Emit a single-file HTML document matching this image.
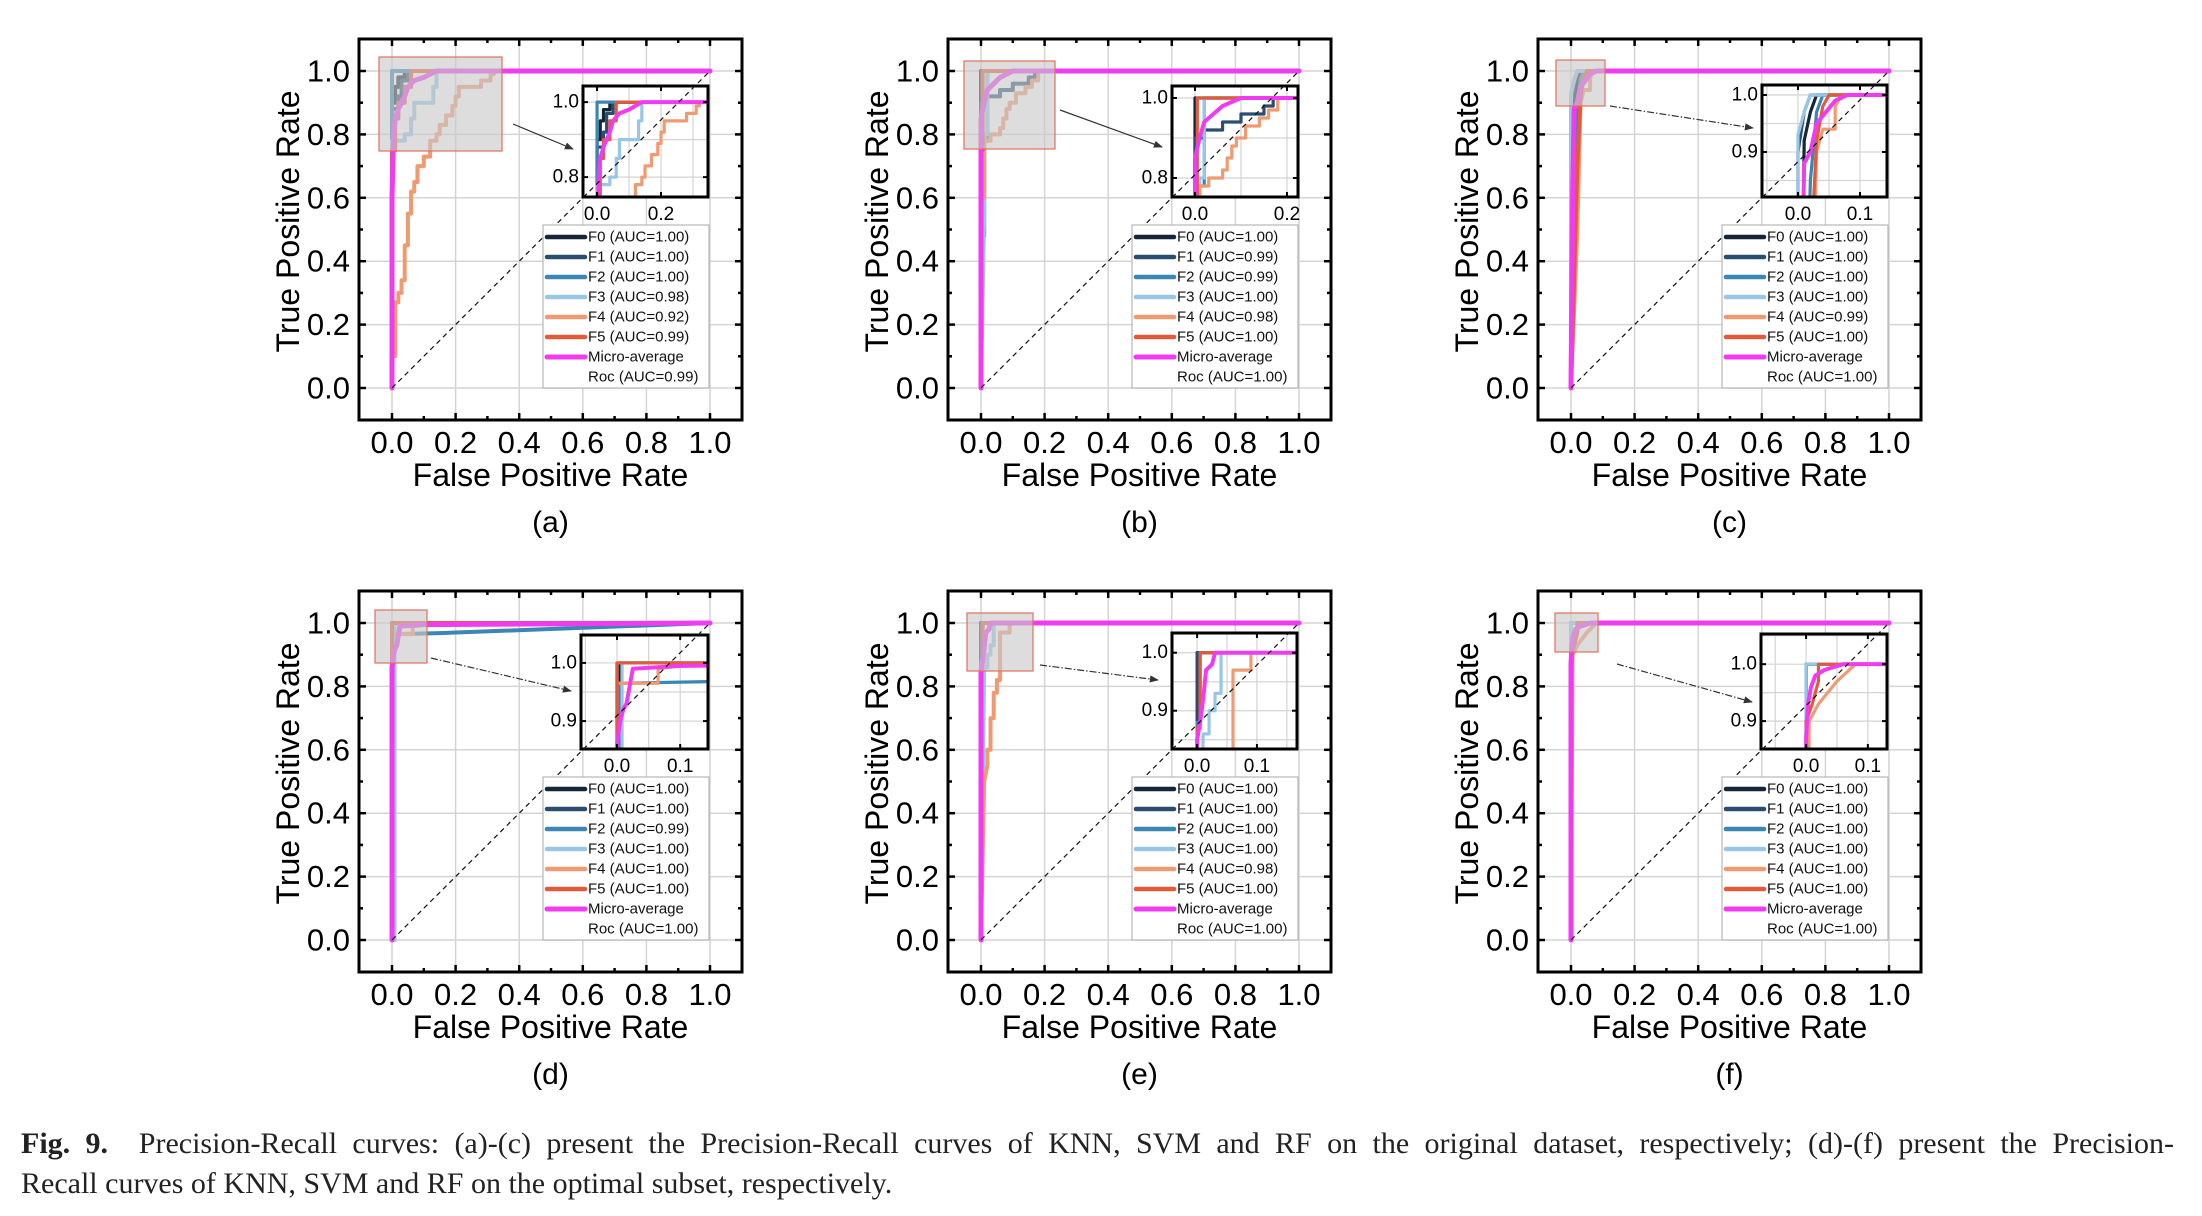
<!DOCTYPE html>
<html><head><meta charset="utf-8">
<style>
html,body{margin:0;padding:0;background:#fff;width:2202px;height:1216px;overflow:hidden}
svg{position:absolute;left:0;top:0}
.cap{position:absolute;left:21px;width:2153px;font-family:"Liberation Serif",serif;font-size:30px;color:#222;line-height:40px}
</style></head>
<body>
<svg id="fig" width="2202" height="1216" viewBox="0 0 2202 1216" xmlns="http://www.w3.org/2000/svg"></svg>
<div class="cap" style="top:1124px;text-align:justify;text-align-last:justify"><b>Fig. 9.</b>&nbsp; Precision-Recall curves: (a)-(c) present the Precision-Recall curves of KNN, SVM and RF on the original dataset, respectively; (d)-(f) present the Precision-</div>
<div class="cap" style="top:1164px">Recall curves of KNN, SVM and RF on the optimal subset, respectively.</div>
<script>
// ---- data ----
const seriesNames = ["F0","F1","F2","F3","F4","F5","Micro-average"];
const xTickValues = [0,0.2,0.4,0.6,0.8,1.0];
const xTickLabels = ["0.0","0.2","0.4","0.6","0.8","1.0"];
const yTickValues = [0,0.2,0.4,0.6,0.8,1.0];
const yTickLabels = ["0.0","0.2","0.4","0.6","0.8","1.0"];
const panelLabels = ["(a)","(b)","(c)","(d)","(e)","(f)"];

const aucA = ["1.00","1.00","1.00","0.98","0.92","0.99","0.99"];
const aucB = ["1.00","0.99","0.99","1.00","0.98","1.00","1.00"];
const aucC = ["1.00","1.00","1.00","1.00","0.99","1.00","1.00"];
const aucD = ["1.00","1.00","0.99","1.00","1.00","1.00","1.00"];
const aucE = ["1.00","1.00","1.00","1.00","0.98","1.00","1.00"];
const aucF = ["1.00","1.00","1.00","1.00","1.00","1.00","1.00"];

const curvesA = [
 [[0,0],[0,0.9],[0.01,0.9],[0.01,0.95],[0.02,0.95],[0.02,0.98],[0.04,0.98],[0.04,1],[1,1]],
 [[0,0],[0,0.88],[0.02,0.88],[0.02,0.92],[0.03,0.92],[0.03,0.97],[0.05,0.97],[0.05,1],[1,1]],
 [[0,0],[0,1],[1,1]],
 [[0,0],[0,0.78],[0.04,0.78],[0.04,0.8],[0.06,0.8],[0.06,0.85],[0.07,0.85],[0.07,0.9],[0.13,0.9],[0.13,0.95],[0.14,0.95],[0.14,1],[1,1]],
 [[0,0],[0,0.1],[0.01,0.1],[0.01,0.27],[0.02,0.27],[0.02,0.3],[0.03,0.3],[0.03,0.34],[0.04,0.34],[0.04,0.45],[0.05,0.45],[0.05,0.55],[0.06,0.55],[0.06,0.62],[0.07,0.62],[0.07,0.65],[0.08,0.65],[0.08,0.7],[0.1,0.7],[0.1,0.73],[0.12,0.73],[0.12,0.78],[0.14,0.78],[0.14,0.8],[0.15,0.8],[0.15,0.83],[0.17,0.83],[0.17,0.86],[0.19,0.86],[0.19,0.89],[0.2,0.89],[0.2,0.92],[0.21,0.92],[0.21,0.95],[0.28,0.95],[0.28,0.97],[0.31,0.97],[0.31,0.99],[0.32,0.99],[0.32,1],[1,1]],
 [[0,0],[0,0.75],[0.01,0.75],[0.01,0.85],[0.02,0.85],[0.02,0.9],[0.04,0.9],[0.04,0.95],[0.06,0.95],[0.06,1],[1,1]],
 [[0,0],[0,0.6],[0.005,0.8],[0.01,0.85],[0.02,0.88],[0.04,0.92],[0.05,0.95],[0.07,0.97],[0.1,0.98],[0.12,0.99],[0.14,1],[1,1]]
];
const curvesB = [
 [[0,0],[0,1],[1,1]],
 [[0,0],[0,0.9],[0.02,0.9],[0.02,0.92],[0.06,0.92],[0.06,0.94],[0.1,0.94],[0.1,0.96],[0.15,0.96],[0.15,0.98],[0.17,0.98],[0.17,1],[1,1]],
 [[0,0],[0,0.48],[0.01,0.48],[0.01,0.78],[0.02,0.78],[0.02,1],[1,1]],
 [[0,0],[0.01,0.55],[0.01,0.8],[0.02,0.8],[0.02,1],[1,1]],
 [[0,0],[0,0.6],[0.01,0.6],[0.01,0.78],[0.03,0.78],[0.03,0.8],[0.06,0.8],[0.06,0.82],[0.07,0.82],[0.07,0.85],[0.08,0.85],[0.08,0.88],[0.09,0.88],[0.09,0.9],[0.11,0.9],[0.11,0.93],[0.14,0.93],[0.14,0.95],[0.16,0.95],[0.16,0.97],[0.18,0.97],[0.18,1],[1,1]],
 [[0,0],[0,0.75],[0.005,0.75],[0.005,1],[1,1]],
 [[0,0],[0,0.85],[0.01,0.9],[0.02,0.94],[0.04,0.96],[0.06,0.98],[0.1,1],[1,1]]
];
const curvesC = [
 [[0,0],[0.01,0.92],[0.02,0.97],[0.03,1],[1,1]],
 [[0,0],[0,0.9],[0.01,0.97],[0.02,1],[1,1]],
 [[0,0],[0.02,0.85],[0.03,0.97],[0.04,1],[1,1]],
 [[0,0],[0,0.93],[0.01,0.97],[0.02,1],[1,1]],
 [[0,0],[0.02,0.5],[0.03,0.9],[0.04,0.94],[0.06,0.94],[0.06,0.98],[0.07,1],[1,1]],
 [[0,0],[0.02,0.7],[0.03,0.92],[0.04,0.98],[0.05,1],[1,1]],
 [[0,0],[0.005,0.6],[0.01,0.88],[0.02,0.9],[0.03,0.95],[0.06,0.99],[0.08,1],[1,1]]
];
const curvesD = [
 [[0,0],[0,0.35],[0.005,0.35],[0.005,1],[1,1]],
 [[0,0],[0,1],[1,1]],
 [[0,0],[0.005,0.965],[0.15,0.968],[1,1]],
 [[0,0],[0.008,0],[0.008,1],[1,1]],
 [[0,0],[0,0.965],[0.065,0.965],[0.065,0.99],[0.1,0.995],[1,1]],
 [[0,0],[0,1],[1,1]],
 [[0,0],[0,0.86],[0.005,0.9],[0.01,0.92],[0.015,0.93],[0.02,0.96],[0.025,0.99],[0.1,0.995],[1,1]]
];
const curvesE = [
 [[0,0],[0,1],[1,1]],
 [[0,0],[0,1],[1,1]],
 [[0,0],[0,0.88],[0.005,0.88],[0.005,1],[1,1]],
 [[0,0],[0.01,0.86],[0.02,0.86],[0.02,0.9],[0.03,0.9],[0.03,0.93],[0.04,0.93],[0.04,1],[1,1]],
 [[0,0],[0.01,0.5],[0.02,0.55],[0.02,0.6],[0.03,0.6],[0.03,0.7],[0.04,0.7],[0.04,0.78],[0.05,0.78],[0.05,0.82],[0.06,0.82],[0.06,0.97],[0.09,0.97],[0.09,1],[1,1]],
 [[0,0],[0,0.87],[0.005,0.87],[0.005,1],[1,1]],
 [[0,0],[0,0.85],[0.005,0.88],[0.01,0.92],[0.015,0.97],[0.025,0.98],[0.03,1],[1,1]]
];
const curvesF = [
 [[0,0],[0,1],[1,1]],
 [[0,0],[0,1],[1,1]],
 [[0,0],[0,1],[1,1]],
 [[0,0],[0,1],[1,1]],
 [[0,0],[0.005,0.9],[0.02,0.93],[0.05,0.97],[0.08,1],[1,1]],
 [[0,0],[0,0.9],[0.01,0.93],[0.02,0.97],[0.02,1],[1,1]],
 [[0,0],[0,0.87],[0.003,0.93],[0.008,0.96],[0.015,0.98],[0.03,0.99],[0.06,1],[1,1]]
];
const insetXTicksAB = [0,0.2];
const insetXLabelsAB = ["0.0","0.2"];
const insetYTicksAB = [0.8,1.0];
const insetYLabelsAB = ["0.8","1.0"];
const insetXTicksCF = [0,0.1];
const insetXLabelsCF = ["0.0","0.1"];
const insetYTicksCF = [0.9,1.0];
const insetYLabelsCF = ["0.9","1.0"];

// ---- layout (not data) ----
const colors = ["#14263a","#2a4d70","#3a86b4","#98c6e6","#f09a72","#e25a3c","#f03cf0"];
const panels = [
 {ox:359,oy:39, curves:curvesA, auc:aucA, box:[224,47,349,158], dom:[-0.044,0.347,0.747,1.043], xt:insetXTicksAB, xl:insetXLabelsAB, yt:insetYTicksAB, yl:insetYLabelsAB, hl:[20,18,143,112], ar:[154,85,214,110], dash:false},
 {ox:948,oy:39, curves:curvesB, auc:aucB, box:[224,47,350,158], dom:[-0.05,0.224,0.7525,1.03], xt:insetXTicksAB, xl:insetXLabelsAB, yt:insetYTicksAB, yl:insetYLabelsAB, hl:[16,22,107,110], ar:[112,71,214,108], dash:false},
 {ox:1538,oy:39, curves:curvesC, auc:aucC, box:[224,46,349,158], dom:[-0.058,0.1435,0.821,1.0175], xt:insetXTicksCF, xl:insetXLabelsCF, yt:insetYTicksCF, yl:insetYLabelsCF, hl:[18,21,67,67], ar:[72,67,215,89], dash:true},
 {ox:359,oy:591, curves:curvesD, auc:aucD, box:[222,44,349,158], dom:[-0.057,0.144,0.852,1.048], xt:insetXTicksCF, xl:insetXLabelsCF, yt:insetYTicksCF, yl:insetYLabelsCF, hl:[16,19,68,72], ar:[72,67,212,100], dash:true},
 {ox:948,oy:591, curves:curvesE, auc:aucE, box:[224,42,349,158], dom:[-0.042,0.167,0.834,1.034], xt:insetXTicksCF, xl:insetXLabelsCF, yt:insetYTicksCF, yl:insetYLabelsCF, hl:[19,22,85,80], ar:[92,74,210,89], dash:true},
 {ox:1538,oy:591, curves:curvesF, auc:aucF, box:[223,43,349,158], dom:[-0.073,0.131,0.851,1.053], xt:insetXTicksCF, xl:insetXLabelsCF, yt:insetYTicksCF, yl:insetYLabelsCF, hl:[17,22,60,61], ar:[79,73,214,111], dash:true}
];
const NS="http://www.w3.org/2000/svg";
const svg=document.getElementById('fig');
function mk(parent,tag,attrs,text){const e=document.createElementNS(NS,tag);for(const k in attrs)e.setAttribute(k,attrs[k]);if(text!==undefined)e.textContent=text;parent.appendChild(e);return e;}
const FW=383,FH=381;
const defs=mk(svg,'defs',{});
const mar=mk(defs,'marker',{id:'arr',viewBox:'0 0 10 10',refX:'9',refY:'5',markerWidth:'9',markerHeight:'9',orient:'auto',markerUnits:'userSpaceOnUse'});
mk(mar,'path',{d:'M0,1 L10,5 L0,9 Z',fill:'#333'});

panels.forEach((p,pi)=>{
 const g=mk(svg,'g',{transform:`translate(${p.ox},${p.oy})`});
 
 
 const sx=v=>33+v*318, sy=v=>349-v*317;
 // grid
 const grid=mk(g,'g',{stroke:'#d4d4d4','stroke-width':1.5});
 
 
 xTickValues.forEach(v=>mk(grid,'line',{x1:sx(v),x2:sx(v),y1:0,y2:FH}));
 yTickValues.forEach(v=>mk(grid,'line',{y1:sy(v),y2:sy(v),x1:0,x2:FW}));
 // curves
 const cg=mk(g,'g',{fill:'none','stroke-linejoin':'round','stroke-linecap':'round'});
 
 
 p.curves.forEach((c,i)=>{
  const pl=mk(cg,'polyline',{points:c.map(q=>sx(q[0])+','+sy(q[1])).join(' '),stroke:colors[i],'stroke-width':i==6?5:4});
  
  
 });
 // highlight rect
 const hr=mk(g,'rect',{x:p.hl[0],y:p.hl[1],width:p.hl[2]-p.hl[0],height:p.hl[3]-p.hl[1],fill:'rgba(200,200,200,0.62)',stroke:'#e2705e','stroke-width':1.2});
 
 
 // arrow
 const ar=mk(g,'line',{x1:p.ar[0],y1:p.ar[1],x2:p.ar[2],y2:p.ar[3],stroke:'#333','stroke-width':1.2,'marker-end':'url(#arr)'});
 if(p.dash) ar.setAttribute('stroke-dasharray','7 2 1.5 2');
 
 
 // inset
 const b=p.box, d=p.dom;
 const ix=v=>b[0]+(v-d[0])/(d[1]-d[0])*(b[2]-b[0]);
 const iy=v=>b[3]-(v-d[2])/(d[3]-d[2])*(b[3]-b[1]);
 const ig=mk(g,'g',{});
 
 
 mk(ig,'rect',{x:b[0],y:b[1],width:b[2]-b[0],height:b[3]-b[1],fill:'#fff'});
 const icp=mk(defs,'clipPath',{id:'iclip'+pi}); mk(icp,'rect',{x:b[0],y:b[1],width:b[2]-b[0],height:b[3]-b[1]});
 const igrid=mk(ig,'g',{stroke:'#d4d4d4','stroke-width':1.2});
 const xs=p.xt[1]-p.xt[0], ys=p.yt[1]-p.yt[0];
 for(let v=p.xt[0]-xs;v<=d[1];v+=xs/2){ if(v>d[0]) mk(igrid,'line',{x1:ix(v),x2:ix(v),y1:b[1],y2:b[3]}); }
 for(let v=p.yt[0]-ys;v<=d[3];v+=ys/2){ if(v>d[2]) mk(igrid,'line',{y1:iy(v),y2:iy(v),x1:b[0],x2:b[2]}); }
 const icg=mk(ig,'g',{fill:'none','clip-path':'url(#iclip'+pi+')','stroke-linejoin':'round'});
 p.curves.forEach((c,i)=>{
  const pl=mk(icg,'polyline',{points:c.map(q=>ix(q[0])+','+iy(q[1])).join(' '),stroke:colors[i],'stroke-width':i==6?4:3.2});
  
  
 });
 const itk=mk(ig,'g',{stroke:'#000','stroke-width':2});
 p.xt.forEach(v=>{mk(itk,'line',{x1:ix(v),x2:ix(v),y1:b[3],y2:b[3]-5});mk(itk,'line',{x1:ix(v),x2:ix(v),y1:b[1],y2:b[1]+5});});
 p.yt.forEach(v=>{mk(itk,'line',{y1:iy(v),y2:iy(v),x1:b[0],x2:b[0]+5});mk(itk,'line',{y1:iy(v),y2:iy(v),x1:b[2],x2:b[2]-5});});
 mk(ig,'rect',{x:b[0],y:b[1],width:b[2]-b[0],height:b[3]-b[1],fill:'none',stroke:'#000','stroke-width':3});
 p.xt.forEach((v,i)=>{const t=mk(ig,'text',{x:ix(v),y:b[3]+23,'text-anchor':'middle','font-family':'Liberation Sans, sans-serif','font-size':19},p.xl[i]);
  
  });
 p.yt.forEach((v,i)=>{const t=mk(ig,'text',{x:b[0]-4,y:iy(v),'text-anchor':'end','dominant-baseline':'central','font-family':'Liberation Sans, sans-serif','font-size':19},p.yl[i]);
  
  });
 // diagonal
 const dg=mk(g,'line',{x1:sx(0),y1:sy(0),x2:sx(1),y2:sy(1),stroke:'#111','stroke-width':1.2,'stroke-dasharray':'5 4'});
 
 
 // legend
 const lg=mk(g,'g',{});
 
 
 mk(lg,'rect',{x:184,y:186,width:166,height:163,fill:'#fff',stroke:'#aaa','stroke-width':1});
 seriesNames.forEach((n,i)=>{
  const yy=198+i*20;
  const e=mk(lg,'g',{});
  
  
  mk(e,'line',{x1:188,x2:226,y1:yy,y2:yy,stroke:colors[i],'stroke-width':i==6?5:4.5,'stroke-linecap':'round'});
  const lab = i<6 ? `${n} (AUC=${p.auc[i]})` : n;
  mk(e,'text',{x:229,y:yy,'dominant-baseline':'central','font-family':'Liberation Sans, sans-serif','font-size':15,fill:'#111'},lab);
  if(i==6) mk(e,'text',{x:229,y:yy+20,'dominant-baseline':'central','font-family':'Liberation Sans, sans-serif','font-size':15,fill:'#111'},`Roc (AUC=${p.auc[6]})`);
 });
 // ticks
 const tk=mk(g,'g',{stroke:'#000','stroke-width':2.5});
 for(let k=0;k<=10;k++){const v=k/10, L=k%2==0?7:4;
  mk(tk,'line',{x1:sx(v),x2:sx(v),y1:FH,y2:FH-L});mk(tk,'line',{x1:sx(v),x2:sx(v),y1:0,y2:L});
  mk(tk,'line',{y1:sy(v),y2:sy(v),x1:0,x2:L});mk(tk,'line',{y1:sy(v),y2:sy(v),x1:FW,x2:FW-L});}
 // frame
 const fr=mk(g,'rect',{x:0,y:0,width:FW,height:FH,fill:'none',stroke:'#000','stroke-width':3});
 
 
 // tick labels
 xTickValues.forEach((v,i)=>{const t=mk(g,'text',{x:sx(v),y:414,'text-anchor':'middle','font-family':'Liberation Sans, sans-serif','font-size':31},xTickLabels[i]);
  
  });
 yTickValues.forEach((v,i)=>{const t=mk(g,'text',{x:-9,y:sy(v),'text-anchor':'end','dominant-baseline':'central','font-family':'Liberation Sans, sans-serif','font-size':31},yTickLabels[i]);
  
  });
 const xt=mk(g,'text',{x:FW/2,y:447,'text-anchor':'middle','font-family':'Liberation Sans, sans-serif','font-size':32},'False Positive Rate');
 
 
 const yt=mk(g,'text',{x:0,y:0,transform:`translate(-71,${FH/2-8}) rotate(-90)`,'text-anchor':'middle','dominant-baseline':'central','font-family':'Liberation Sans, sans-serif','font-size':32},'True Positive Rate');
 
 
 const pl=mk(g,'text',{x:FW/2,y:493,'text-anchor':'middle','font-family':'Liberation Sans, sans-serif','font-size':30},panelLabels[pi]);
 
 
});
</script>
</body></html>
